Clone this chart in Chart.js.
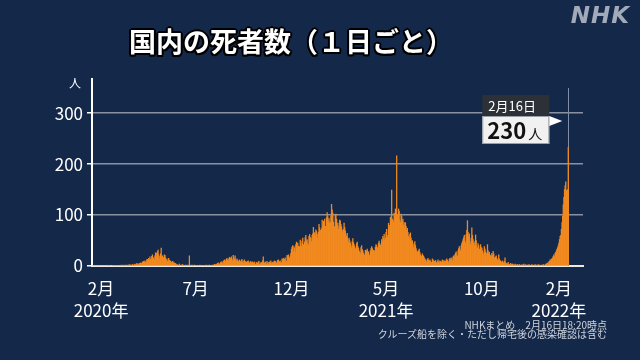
<!DOCTYPE html>
<html lang="ja">
<head>
<meta charset="utf-8">
<title>国内の死者数（１日ごと）</title>
<script src="https://cdn.jsdelivr.net/npm/chart.js@4.4.1/dist/chart.umd.min.js"></script>
<style>
  html, body { margin: 0; padding: 0; background: #14284a; }
  #wrap { position: relative; width: 640px; height: 360px; overflow: hidden; font-family: "Noto Sans CJK JP", sans-serif; }
  #deathChart { position: absolute; left: 0; top: 0; }
  .title {
    position: absolute; left: 0; top: 21px; width: 582px; text-align: center;
    font-size: 27px; font-weight: bold; color: #fff; letter-spacing: 0;
    text-shadow: 2px 0 0 #000, -2px 0 0 #000, 0 2px 0 #000, 0 -2px 0 #000,
                 1.5px 1.5px 0 #000, -1.5px 1.5px 0 #000, 1.5px -1.5px 0 #000, -1.5px -1.5px 0 #000;
  }
  .logo {
    position: absolute; right: 10px; top: 2px; font-family: "DejaVu Sans", sans-serif;
    font-size: 23px; font-weight: bold; font-style: italic; color: #a2aaba; letter-spacing: 1px;
  }
  .note { position: absolute; right: 33px; font-size: 10px; color: #cfd4dc; line-height: 1; white-space: nowrap; }
</style>
</head>
<body>
<div id="wrap">
  <canvas id="deathChart" width="640" height="360"></canvas>
  <div class="title">国内の死者数（１日ごと）</div>
  <div class="logo">NHK</div>
  <div class="note" style="top:320px">NHKまとめ　2月16日18:20時点</div>
  <div class="note" style="top:329px">クルーズ船を除く・ただし帰宅後の感染確認は含む</div>
</div>
<script>
const START_DATE = "2020-01-18";
const AXIS_DAYS = 784;

// 2020/1/18 - 2020/12/31
const deaths2020 = [
  0,0,0,0,0,0,0,0,0,0,0,0,0,0,
  0,0,0,0,0,0,0,0,0,0,0,0,1,0,0,0,0,0,0,1,0,1,0,0,1,1,0,1,0,
  0,1,1,0,2,1,0,1,2,1,1,2,0,1,2,1,3,1,2,1,2,3,2,1,3,4,2,3,5,2,4,
  3,5,4,6,2,5,8,6,9,7,10,8,7,12,13,9,15,11,18,13,14,19,22,17,14,12,20,26,25,19,
  28,31,22,14,19,24,35,18,20,12,17,22,21,16,13,10,9,14,15,11,8,10,7,6,9,8,5,6,4,5,3,
  3,2,1,2,4,1,0,2,1,3,2,1,0,1,2,1,0,1,2,1,20,0,1,0,2,1,0,1,2,0,
  0,1,0,1,0,1,0,2,1,0,1,0,0,1,1,0,1,2,0,1,0,1,2,0,1,0,1,2,1,2,3,
  2,3,4,2,5,6,4,3,5,7,8,6,5,9,10,12,7,10,13,15,12,9,14,17,11,15,18,13,10,21,16,
  13,20,12,9,14,11,8,10,12,9,7,11,13,8,6,10,12,9,7,8,6,9,10,7,5,8,9,6,7,8,
  6,5,8,4,3,7,6,5,8,9,4,3,6,7,5,10,18,5,6,8,7,3,9,5,4,7,8,6,10,5,7,
  6,8,5,10,7,9,6,4,11,12,9,8,10,7,6,14,12,15,11,13,16,10,9,21,19,22,17,15,20,25,
  33,37,40,29,38,35,27,42,47,35,45,39,31,38,51,44,38,49,55,42,36,47,56,60,49,52,44,41,58,62,56
];

// 2021/1/1 - 2021/12/31
const deaths2021 = [
  55,48,60,63,76,66,64,59,71,68,62,54,66,82,75,70,67,73,90,78,88,82,92,78,76,95,105,97,88,93,84,
  85,98,121,110,104,86,78,76,100,102,92,80,84,72,78,90,88,82,77,70,65,72,84,76,69,61,58,64,
  53,46,55,50,45,40,36,48,54,46,42,38,33,35,44,47,38,35,30,27,24,36,40,32,30,25,16,22,31,28,30,
  33,29,27,22,20,30,34,38,35,28,31,26,30,37,42,40,36,33,45,49,44,41,35,52,47,58,54,62,50,55,
  66,72,57,60,84,75,80,96,88,149,92,90,86,104,98,112,105,216,100,95,112,108,90,85,102,98,88,92,80,85,75,
  85,78,70,74,66,58,52,62,65,55,48,50,42,36,45,48,40,34,30,28,25,30,33,27,22,20,18,24,21,19,
  16,14,12,10,8,13,15,11,9,12,10,7,6,14,12,10,9,8,11,7,5,9,12,8,6,10,9,7,8,12,11,
  8,10,7,9,12,14,11,9,6,13,15,12,16,14,10,18,20,17,22,25,28,21,19,30,34,38,33,29,40,44,48,
  52,56,60,49,45,62,70,89,66,58,63,48,42,55,75,60,52,45,40,48,61,50,38,35,44,40,33,30,42,36,
  35,30,26,22,38,33,28,25,20,42,30,24,27,22,20,18,25,21,29,24,16,14,18,20,15,12,10,22,14,11,9,
  8,6,10,7,5,9,16,6,4,5,3,7,4,3,2,5,3,2,4,3,1,2,4,3,1,2,3,2,1,3,
  2,1,0,3,1,2,4,1,2,3,1,0,2,1,3,2,1,0,2,3,1,2,0,1,3,2,1,2,1,3,2
];

// 2022/1/1 - 2022/2/16
const deaths2022 = [
  1,2,1,0,2,1,3,2,1,2,4,3,5,6,4,8,9,12,10,14,13,16,19,22,18,25,27,30,33,36,40,
  45,52,58,60,72,85,98,120,135,150,158,165,148,142,150,233
];

const tickDates = ["2020-02-01", "2020-07-01", "2020-12-01", "2021-05-01", "2021-10-01", "2022-02-01"];
const tickLabels = [["2月", "2020年"], ["7月"], ["12月"], ["5月", "2021年"], ["10月"], ["2月", "2022年"]];
const yTicks = [0, 100, 200, 300];
const Y_MAX = 367;

const calloutDate = "2月16日";
const calloutValue = 230;
const calloutUnit = "人";

function buildDays() {
  const start = new Date(START_DATE + "T00:00:00Z");
  const days = [];
  for (let i = 0; i < AXIS_DAYS; i++) {
    days.push(new Date(start.getTime() + i * 86400000).toISOString().slice(0, 10));
  }
  return days;
}

const days = buildDays();
const deaths = deaths2020.concat(deaths2021, deaths2022);
const tickIndexes = tickDates.map((d) => days.indexOf(d));

const calloutPlugin = {
  id: "callout",
  beforeDatasetsDraw(chart) {
    const { ctx, scales } = chart;
    const x = scales.x.getPixelForValue(deaths.length - 1);
    ctx.save();
    ctx.strokeStyle = "#7e8ea8";
    ctx.lineWidth = 1;
    ctx.beginPath();
    ctx.moveTo(Math.round(x) + 0.5, 88);
    ctx.lineTo(Math.round(x) + 0.5, scales.y.bottom);
    ctx.stroke();
    ctx.restore();
  },
  afterDraw(chart) {
    const { ctx, scales, chartArea } = chart;
    const x = scales.x.getPixelForValue(deaths.length - 1);
    const right = x - 19;
    const left = right - 67;

    ctx.save();
    // unit label of the y axis
    ctx.fillStyle = "#ffffff";
    ctx.font = "12px 'Noto Sans CJK JP'";
    ctx.textAlign = "center";
    ctx.textBaseline = "middle";
    ctx.fillText("人", chartArea.left - 17, chartArea.top + 4);

    // date header
    ctx.fillStyle = "#2c3037";
    ctx.fillRect(left, 95, right - left, 21);
    ctx.fillStyle = "#ffffff";
    ctx.font = "13px 'Noto Sans CJK JP'";
    ctx.textAlign = "left";
    ctx.fillText(calloutDate, left + 6, 106);

    // value box
    ctx.fillStyle = "#f1f1f1";
    ctx.fillRect(left, 116, right - left, 28);
    ctx.strokeStyle = "#9aa0a8";
    ctx.lineWidth = 1;
    ctx.strokeRect(left + 0.5, 116.5, right - left - 1, 27);
    ctx.fillStyle = "#111111";
    ctx.textBaseline = "alphabetic";
    ctx.font = "bold 22px 'Noto Sans CJK JP'";
    ctx.fillText(String(calloutValue), left + 5, 139);
    const w = ctx.measureText(String(calloutValue)).width;
    ctx.font = "14px 'Noto Sans CJK JP'";
    ctx.fillText(calloutUnit, left + 7 + w, 139);

    // pointer
    ctx.fillStyle = "#ffffff";
    ctx.beginPath();
    ctx.moveTo(right, 116);
    ctx.lineTo(x - 6, 121);
    ctx.lineTo(right, 126);
    ctx.closePath();
    ctx.fill();
    ctx.restore();
  }
};

new Chart(document.getElementById("deathChart"), {
  type: "bar",
  data: {
    labels: days,
    datasets: [
      {
        data: deaths,
        backgroundColor: "#f28a1f",
        borderWidth: 0,
        barPercentage: 1,
        categoryPercentage: 1
      }
    ]
  },
  options: {
    responsive: false,
    animation: false,
    layout: { padding: { top: 79, right: 57, left: 0, bottom: 0 } },
    plugins: { legend: { display: false }, tooltip: { enabled: false } },
    scales: {
      x: {
        grid: { display: false, drawTicks: false },
        border: { color: "#efeadf", width: 2 },
        afterBuildTicks(scale) {
          scale.ticks = tickIndexes.map((i) => ({ value: i }));
        },
        afterFit(scale) {
          scale.height = 94;
        },
        ticks: {
          autoSkip: false,
          maxRotation: 0,
          minRotation: 0,
          padding: 11,
          color: "#ffffff",
          font: { family: "'Noto Sans CJK JP'", size: 17, lineHeight: 1.3 },
          callback(value) {
            return tickLabels[tickIndexes.indexOf(value)];
          }
        }
      },
      y: {
        min: 0,
        max: Y_MAX,
        grid: {
          color: (c) => (c.tick && c.tick.value === 0 ? "rgba(0,0,0,0)" : "#8a92a2"),
          lineWidth: 1.5,
          tickColor: "#ffffff",
          tickLength: 5
        },
        border: { color: "#ffffff", width: 2 },
        afterBuildTicks(scale) {
          scale.ticks = yTicks.map((v) => ({ value: v }));
        },
        afterFit(scale) {
          scale.width = 92;
        },
        ticks: {
          padding: 4,
          color: "#ffffff",
          font: { family: "'Noto Sans CJK JP'", size: 17 }
        }
      }
    }
  },
  plugins: [calloutPlugin]
});
</script>
</body>
</html>
